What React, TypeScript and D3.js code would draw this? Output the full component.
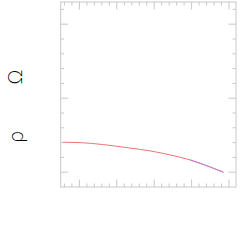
import React from "react";
import * as d3 from "d3";

const xMajorTicks = [1, 2, 3, 4, 5];
const yMajorTicks = [0, 1, 2];
const lineX = [0.57, 1.02, 1.64, 2.27, 2.89, 3.42, 3.96, 4.4, 4.85];
const lineY = [0.405, 0.4, 0.373, 0.332, 0.288, 0.234, 0.166, 0.089, 0.0];
const tailX = [3.96, 4.4, 4.85];
const tailY = [0.166, 0.089, 0.0];
const axisLabels = ["Ω", "ρ"];

export default function App() {
  const W = 245, H = 245;
  const left = 60.7, right = 236, top = 2, bottom = 187;
  const x = d3.scaleLinear().domain([0.5, 0.5 + (right - left) / 37.4]).range([left, right]);
  const y = d3.scaleLinear().domain([-0.2, 2.3]).range([bottom, top]);
  const xMinor = d3.range(0.6, x.domain()[1] - 0.01, 0.2).filter(v => !xMajorTicks.some(m => Math.abs(m - v) < 1e-6));
  const yMinor = d3.range(0.2, 2.3 - 0.01, 0.2).filter(v => !yMajorTicks.some(m => Math.abs(m - v) < 1e-6));
  const line = d3.line<number>().x((_, i) => x(lineX[i])).y((d) => y(d)).curve(d3.curveMonotoneX);
  const tail = d3.line<number>().x((_, i) => x(tailX[i])).y((d) => y(d)).curve(d3.curveMonotoneX);
  const gray = "#c8c8c8";
  const majLen = 7.5, minLen = 3.5;
  return (
    <svg width={W} height={H} style={{ position: "absolute", left: 0, top: 0, background: "#fff" }}>
      <rect x={left} y={top} width={right - left} height={bottom - top} fill="none" stroke={gray} strokeWidth={1} />
      {xMajorTicks.filter(v => x(v) < right).map(v => (
        <g key={"xm" + v}>
          <line x1={x(v)} x2={x(v)} y1={bottom} y2={bottom - majLen} stroke={gray} />
          <line x1={x(v)} x2={x(v)} y1={top} y2={top + majLen} stroke={gray} />
        </g>
      ))}
      {xMinor.map(v => (
        <g key={"xn" + v}>
          <line x1={x(v)} x2={x(v)} y1={bottom} y2={bottom - minLen} stroke={gray} />
          <line x1={x(v)} x2={x(v)} y1={top} y2={top + minLen} stroke={gray} />
        </g>
      ))}
      {yMajorTicks.map(v => (
        <g key={"ym" + v}>
          <line x1={left} x2={left + majLen} y1={y(v)} y2={y(v)} stroke={gray} />
          <line x1={right} x2={right - majLen} y1={y(v)} y2={y(v)} stroke={gray} />
        </g>
      ))}
      {yMinor.map(v => (
        <g key={"yn" + v}>
          <line x1={left} x2={left + minLen} y1={y(v)} y2={y(v)} stroke={gray} />
          <line x1={right} x2={right - minLen} y1={y(v)} y2={y(v)} stroke={gray} />
        </g>
      ))}
      <path d={line(lineY) || ""} fill="none" stroke="#e87676" strokeWidth={1} />
      <path d={tail(tailY) || ""} fill="none" stroke="#c07ee0" strokeWidth={1} />
      <text transform="translate(22,77) rotate(-90)" textAnchor="middle" fontFamily="DejaVu Sans" fontWeight={200} fontSize={20} fill="#000">{axisLabels[0]}</text>
      <text transform="translate(23,137) rotate(-90)" textAnchor="middle" fontFamily="DejaVu Sans" fontWeight={200} fontSize={20} fill="#000">{axisLabels[1]}</text>
    </svg>
  );
}
